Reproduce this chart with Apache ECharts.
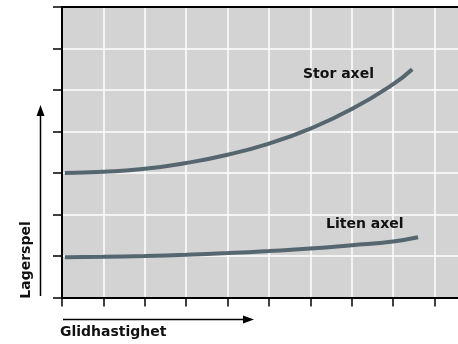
<!DOCTYPE html>
<html>
<head>
<meta charset="utf-8">
<script src="https://cdn.jsdelivr.net/npm/echarts@6/dist/echarts.min.js"></script>
<style>
  html, body { margin: 0; padding: 0; background: #ffffff; }
  #chart { width: 458px; height: 344px; }
</style>
</head>
<body>
<div id="chart"></div>
<script>
// Glidhastighet (relative units) and Lagerspel for the two shaft sizes
const storSpeed  = [0.07, 1, 2, 3, 4, 5, 6, 7, 8, 8.46];
const storPlay   = [3.00, 3.03, 3.10, 3.24, 3.44, 3.71, 4.07, 4.54, 5.14, 5.50];
const litenSpeed = [0.07, 1, 2, 3, 4, 5, 6, 7, 8, 8.6];
const litenPlay  = [0.97, 0.98, 1.00, 1.03, 1.07, 1.12, 1.18, 1.26, 1.35, 1.45];

const seriesNames = ['Stor axel', 'Liten axel'];
const xAxisTitle = 'Glidhastighet';
const yAxisTitle = 'Lagerspel';

const pairs = (xs, ys) => xs.map((x, i) => [x, ys[i]]);

const lineColor = '#56666e';
const chart = echarts.init(document.getElementById('chart'), null, { renderer: 'canvas' });

const font = 'Verdana, "DejaVu Sans", sans-serif';

chart.setOption({
  animation: false,
  grid: {
    left: 62, top: 7, width: 414, bottom: 46.5,
    outerBoundsMode: 'none',
    show: true, backgroundColor: '#d3d3d3', borderWidth: 0
  },
  xAxis: [{
    type: 'value', min: 0, max: 10, interval: 1,
    axisLine: { show: true, onZero: false, lineStyle: { color: '#000', width: 2 } },
    axisTick: { show: true, inside: false, length: 9, lineStyle: { color: '#000', width: 1.5 } },
    axisLabel: { show: false },
    splitLine: { show: true, lineStyle: { color: '#ffffff', width: 1.5 } }
  }, {
    type: 'value', position: 'top', min: 0, max: 10,
    axisLine: { show: true, onZero: false, lineStyle: { color: '#000', width: 2 } },
    axisTick: { show: false }, axisLabel: { show: false }, splitLine: { show: false }
  }],
  yAxis: {
    type: 'value', min: 0, max: 7, interval: 1,
    axisLine: { show: true, onZero: false, lineStyle: { color: '#000', width: 2 } },
    axisTick: { show: true, inside: false, length: 9, lineStyle: { color: '#000', width: 1.5 } },
    axisLabel: { show: false },
    splitLine: { show: true, lineStyle: { color: '#ffffff', width: 1.5 } }
  },
  series: [{
    name: seriesNames[0], type: 'line', smooth: true, symbol: 'none',
    data: pairs(storSpeed, storPlay),
    lineStyle: { color: lineColor, width: 4, cap: 'butt' }
  }, {
    name: seriesNames[1], type: 'line', smooth: true, symbol: 'none',
    data: pairs(litenSpeed, litenPlay),
    lineStyle: { color: lineColor, width: 4, cap: 'butt' }
  }],
  graphic: [
    { type: 'text', left: 303, top: 67, style: { text: seriesNames[0], font: 'bold 14px ' + font, fill: '#111' }, z: 10 },
    { type: 'text', left: 326, top: 217, style: { text: seriesNames[1], font: 'bold 14px ' + font, fill: '#111' }, z: 10 },
    // axis title arrows
    { type: 'line', shape: { x1: 40.5, y1: 296, x2: 40.5, y2: 114 }, style: { stroke: '#000', lineWidth: 1.5 } },
    { type: 'polygon', shape: { points: [[40.5, 105], [36.5, 116], [44.5, 116]] }, style: { fill: '#000' } },
    { type: 'line', shape: { x1: 63, y1: 319.5, x2: 244, y2: 319.5 }, style: { stroke: '#000', lineWidth: 1.5 } },
    { type: 'polygon', shape: { points: [[254, 319.5], [243, 315.5], [243, 323.5]] }, style: { fill: '#000' } },
    { type: 'text', x: 26, y: 260, rotation: Math.PI / 2,
      style: { text: yAxisTitle, font: 'bold 14px ' + font, fill: '#111', align: 'center', verticalAlign: 'middle' } },
    { type: 'text', left: 60, top: 325, style: { text: xAxisTitle, font: 'bold 14px ' + font, fill: '#111' } }
  ]
});
</script>
</body>
</html>
